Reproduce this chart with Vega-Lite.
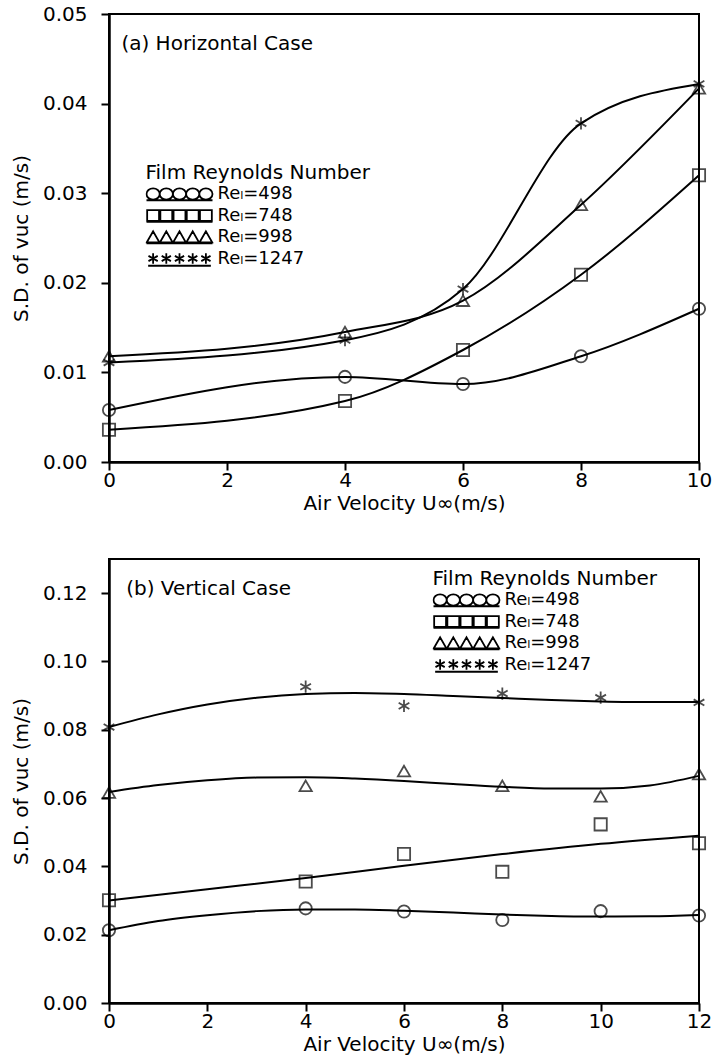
{
  "$schema": "https://vega.github.io/schema/vega-lite/v6.json",
  "background": "white",
  "padding": {"top": 3, "left": 10, "right": 2, "bottom": 5},
  "config": {
    "font": "DejaVu Sans",
    "view": {"stroke": "black", "strokeWidth": 2},
    "axis": {"domainColor": "black", "domainWidth": 2.5, "tickColor": "black", "tickWidth": 2, "tickSize": 8, "labelFont": "DejaVu Sans", "labelFontSize": 20, "labelColor": "black", "titleFont": "DejaVu Sans", "titleFontSize": 20, "titleFontWeight": "normal", "titleColor": "black", "grid": false, "labelFlush": false, "labelOverlap": false},
    "axisX": {"labelPadding": 0, "titlePadding": 3, "format": "d"},
    "axisY": {"labelPadding": 14, "titlePadding": 11},
    "legend": {"orient": "none", "padding": 0, "titleFont": "DejaVu Sans", "titleFontSize": 20, "titleFontWeight": "normal", "titleColor": "black", "titlePadding": 1, "titleLimit": 400, "labelLimit": 300, "labelFont": "DejaVu Sans", "labelFontSize": 18, "labelColor": "black", "labelOffset": 4, "symbolOffset": 0, "symbolSize": 4356, "symbolStrokeWidth": 1.8, "symbolStrokeColor": "black", "symbolFillColor": "transparent", "symbolOpacity": 1, "clipHeight": 20, "rowPadding": 1.5},
    "line": {"color": "black", "strokeWidth": 2},
    "point": {"color": "black", "filled": false, "strokeWidth": 1.8, "size": 150},
    "text": {"font": "DejaVu Sans", "fontSize": 20, "color": "black"}
  },
  "datasets": {
    "a_pts": [
      {"series": "Reₗ=498", "u": 0, "sd": 0.0058},
      {"series": "Reₗ=498", "u": 4, "sd": 0.0095},
      {"series": "Reₗ=498", "u": 6, "sd": 0.0087},
      {"series": "Reₗ=498", "u": 8, "sd": 0.0118},
      {"series": "Reₗ=498", "u": 10, "sd": 0.0171},
      {"series": "Reₗ=748", "u": 0, "sd": 0.0036},
      {"series": "Reₗ=748", "u": 4, "sd": 0.0068},
      {"series": "Reₗ=748", "u": 6, "sd": 0.0125},
      {"series": "Reₗ=748", "u": 8, "sd": 0.0209},
      {"series": "Reₗ=748", "u": 10, "sd": 0.0320},
      {"series": "Reₗ=998", "u": 0, "sd": 0.0118},
      {"series": "Reₗ=998", "u": 4, "sd": 0.0145},
      {"series": "Reₗ=998", "u": 6, "sd": 0.0180},
      {"series": "Reₗ=998", "u": 8, "sd": 0.0287},
      {"series": "Reₗ=998", "u": 10, "sd": 0.0417},
      {"series": "Reₗ=1247", "u": 0, "sd": 0.0111},
      {"series": "Reₗ=1247", "u": 4, "sd": 0.0136},
      {"series": "Reₗ=1247", "u": 6, "sd": 0.0193},
      {"series": "Reₗ=1247", "u": 8, "sd": 0.0378},
      {"series": "Reₗ=1247", "u": 10, "sd": 0.0422}
    ],
    "b_pts": [
      {"series": "Reₗ=498", "u": 0, "sd": 0.0213},
      {"series": "Reₗ=498", "u": 4, "sd": 0.0277},
      {"series": "Reₗ=498", "u": 6, "sd": 0.0268},
      {"series": "Reₗ=498", "u": 8, "sd": 0.0243},
      {"series": "Reₗ=498", "u": 10, "sd": 0.0269},
      {"series": "Reₗ=498", "u": 12, "sd": 0.0256},
      {"series": "Reₗ=748", "u": 0, "sd": 0.0301},
      {"series": "Reₗ=748", "u": 4, "sd": 0.0356},
      {"series": "Reₗ=748", "u": 6, "sd": 0.0436},
      {"series": "Reₗ=748", "u": 8, "sd": 0.0384},
      {"series": "Reₗ=748", "u": 10, "sd": 0.0523},
      {"series": "Reₗ=748", "u": 12, "sd": 0.0468},
      {"series": "Reₗ=998", "u": 0, "sd": 0.0616},
      {"series": "Reₗ=998", "u": 4, "sd": 0.0636},
      {"series": "Reₗ=998", "u": 6, "sd": 0.0679},
      {"series": "Reₗ=998", "u": 8, "sd": 0.0636},
      {"series": "Reₗ=998", "u": 10, "sd": 0.0605},
      {"series": "Reₗ=998", "u": 12, "sd": 0.0670},
      {"series": "Reₗ=1247", "u": 0, "sd": 0.0808},
      {"series": "Reₗ=1247", "u": 4, "sd": 0.0926},
      {"series": "Reₗ=1247", "u": 6, "sd": 0.0870},
      {"series": "Reₗ=1247", "u": 8, "sd": 0.0906},
      {"series": "Reₗ=1247", "u": 10, "sd": 0.0894},
      {"series": "Reₗ=1247", "u": 12, "sd": 0.0880}
    ],
    "b_fit": [
      {"series": "Reₗ=498", "u": 0, "sd": 0.0213},
      {"series": "Reₗ=498", "u": 1, "sd": 0.0240},
      {"series": "Reₗ=498", "u": 2, "sd": 0.0257},
      {"series": "Reₗ=498", "u": 3, "sd": 0.0269},
      {"series": "Reₗ=498", "u": 4, "sd": 0.0274},
      {"series": "Reₗ=498", "u": 5, "sd": 0.0274},
      {"series": "Reₗ=498", "u": 6, "sd": 0.0270},
      {"series": "Reₗ=498", "u": 7, "sd": 0.0265},
      {"series": "Reₗ=498", "u": 8, "sd": 0.0259},
      {"series": "Reₗ=498", "u": 9, "sd": 0.0255},
      {"series": "Reₗ=498", "u": 10, "sd": 0.0253},
      {"series": "Reₗ=498", "u": 11, "sd": 0.0254},
      {"series": "Reₗ=498", "u": 12, "sd": 0.0258},
      {"series": "Reₗ=748", "u": 0, "sd": 0.0300},
      {"series": "Reₗ=748", "u": 2, "sd": 0.0333},
      {"series": "Reₗ=748", "u": 4, "sd": 0.0366},
      {"series": "Reₗ=748", "u": 6, "sd": 0.0402},
      {"series": "Reₗ=748", "u": 8, "sd": 0.0436},
      {"series": "Reₗ=748", "u": 10, "sd": 0.0466},
      {"series": "Reₗ=748", "u": 12, "sd": 0.0490},
      {"series": "Reₗ=998", "u": 0, "sd": 0.0618},
      {"series": "Reₗ=998", "u": 1, "sd": 0.0638},
      {"series": "Reₗ=998", "u": 2, "sd": 0.0652},
      {"series": "Reₗ=998", "u": 3, "sd": 0.0660},
      {"series": "Reₗ=998", "u": 4, "sd": 0.0661},
      {"series": "Reₗ=998", "u": 5, "sd": 0.0657},
      {"series": "Reₗ=998", "u": 6, "sd": 0.0650},
      {"series": "Reₗ=998", "u": 7, "sd": 0.0641},
      {"series": "Reₗ=998", "u": 8, "sd": 0.0633},
      {"series": "Reₗ=998", "u": 9, "sd": 0.0628},
      {"series": "Reₗ=998", "u": 10, "sd": 0.0628},
      {"series": "Reₗ=998", "u": 11, "sd": 0.0637},
      {"series": "Reₗ=998", "u": 12, "sd": 0.0665},
      {"series": "Reₗ=1247", "u": 0, "sd": 0.0808},
      {"series": "Reₗ=1247", "u": 1, "sd": 0.0845},
      {"series": "Reₗ=1247", "u": 2, "sd": 0.0874},
      {"series": "Reₗ=1247", "u": 3, "sd": 0.0894},
      {"series": "Reₗ=1247", "u": 4, "sd": 0.0905},
      {"series": "Reₗ=1247", "u": 5, "sd": 0.0908},
      {"series": "Reₗ=1247", "u": 6, "sd": 0.0905},
      {"series": "Reₗ=1247", "u": 7, "sd": 0.0899},
      {"series": "Reₗ=1247", "u": 8, "sd": 0.0893},
      {"series": "Reₗ=1247", "u": 9, "sd": 0.0887},
      {"series": "Reₗ=1247", "u": 10, "sd": 0.0883},
      {"series": "Reₗ=1247", "u": 11, "sd": 0.0881},
      {"series": "Reₗ=1247", "u": 12, "sd": 0.0881}
    ]
  },
  "spacing": 44,
  "resolve": {"scale": {"shape": "independent"}, "legend": {"shape": "independent"}},
  "vconcat": [
    {
      "width": 590,
      "height": 448,
      "resolve": {"scale": {"shape": "independent"}},
      "layer": [
        {
          "data": {"name": "a_pts"},
          "mark": {"type": "line", "interpolate": "monotone"},
          "encoding": {
            "x": {"field": "u", "type": "quantitative", "scale": {"domain": [0, 10], "nice": false}, "axis": {"values": [0, 2, 4, 6, 8, 10], "format": "d", "title": "Air Velocity U∞(m/s)"}},
            "y": {"field": "sd", "type": "quantitative", "scale": {"domain": [0, 0.05], "nice": false}, "axis": {"values": [0, 0.01, 0.02, 0.03, 0.04, 0.05], "format": ".2f", "title": "S.D. of vuc (m/s)"}},
            "detail": {"field": "series", "type": "nominal"}
          }
        },
        {
          "data": {"name": "a_pts"},
          "mark": {"type": "point"},
          "encoding": {
            "x": {"field": "u", "type": "quantitative"},
            "y": {"field": "sd", "type": "quantitative"},
            "shape": {"field": "series", "type": "nominal", "scale": {"domain": ["Reₗ=498", "Reₗ=748", "Reₗ=998", "Reₗ=1247"], "range": ["circle", "square", "triangle-up", "M0,-1L0,1M-0.87,-0.5L0.87,0.5M-0.87,0.5L0.87,-0.5"]}, "legend": null}
          }
        },
        {
          "data": {"name": "a_pts"},
          "mark": {"type": "point", "opacity": 0},
          "encoding": {
            "x": {"field": "u", "type": "quantitative"},
            "y": {"field": "sd", "type": "quantitative"},
            "shape": {"field": "series", "type": "nominal",
              "scale": {"domain": ["Reₗ=498", "Reₗ=748", "Reₗ=998", "Reₗ=1247"], "range": [
                "M-1,0a0.2,0.17 0 1,0 0.4,0a0.2,0.17 0 1,0 -0.4,0M-0.6,0a0.2,0.17 0 1,0 0.4,0a0.2,0.17 0 1,0 -0.4,0M-0.2,0a0.2,0.17 0 1,0 0.4,0a0.2,0.17 0 1,0 -0.4,0M0.2,0a0.2,0.17 0 1,0 0.4,0a0.2,0.17 0 1,0 -0.4,0M0.6,0a0.2,0.17 0 1,0 0.4,0a0.2,0.17 0 1,0 -0.4,0M-1,0.19L1,0.19",
                "M-0.98,-0.16h0.36v0.32h-0.36zM-0.58,-0.16h0.36v0.32h-0.36zM-0.18,-0.16h0.36v0.32h-0.36zM0.22,-0.16h0.36v0.32h-0.36zM0.62,-0.16h0.36v0.32h-0.36zM-1,0.19L1,0.19",
                "M-0.99,0.16L-0.8,-0.17L-0.61,0.16ZM-0.59,0.16L-0.4,-0.17L-0.21,0.16ZM-0.19,0.16L0,-0.17L0.19,0.16ZM0.21,0.16L0.4,-0.17L0.59,0.16ZM0.61,0.16L0.8,-0.17L0.99,0.16ZM-1,0.19L1,0.19",
                "M-0.8,-0.16L-0.8,0.16M-0.94,-0.08L-0.66,0.08M-0.94,0.08L-0.66,-0.08M-0.4,-0.16L-0.4,0.16M-0.54,-0.08L-0.26,0.08M-0.54,0.08L-0.26,-0.08M0,-0.16L0,0.16M-0.14,-0.08L0.14,0.08M-0.14,0.08L0.14,-0.08M0.4,-0.16L0.4,0.16M0.26,-0.08L0.54,0.08M0.26,0.08L0.54,-0.08M0.8,-0.16L0.8,0.16M0.66,-0.08L0.94,0.08M0.66,0.08L0.94,-0.08M-0.95,0.22L0.95,0.22"
              ]},
              "legend": {"title": "Film Reynolds Number", "legendX": 36.5, "legendY": 149, "encode": {"symbols": {"update": {"opacity": {"value": 1}, "strokeOpacity": {"value": 1}}}}}
            }
          }
        },
        {
          "data": {"values": [{"t": "(a) Horizontal Case"}]},
          "mark": {"type": "text", "align": "left", "baseline": "middle", "fontSize": 20},
          "encoding": {
            "x": {"datum": 0.21, "type": "quantitative"},
            "y": {"datum": 0.0466, "type": "quantitative"},
            "text": {"field": "t", "type": "nominal"}
          }
        }
      ]
    },
    {
      "width": 590,
      "height": 444,
      "resolve": {"scale": {"shape": "independent"}},
      "layer": [
        {
          "data": {"name": "b_fit"},
          "mark": {"type": "line", "interpolate": "monotone"},
          "encoding": {
            "x": {"field": "u", "type": "quantitative", "scale": {"domain": [0, 12], "nice": false}, "axis": {"values": [0, 2, 4, 6, 8, 10, 12], "format": "d", "title": "Air Velocity U∞(m/s)"}},
            "y": {"field": "sd", "type": "quantitative", "scale": {"domain": [0, 0.13], "nice": false}, "axis": {"values": [0, 0.02, 0.04, 0.06, 0.08, 0.1, 0.12], "format": ".2f", "title": "S.D. of vuc (m/s)"}},
            "detail": {"field": "series", "type": "nominal"}
          }
        },
        {
          "data": {"name": "b_pts"},
          "mark": {"type": "point"},
          "encoding": {
            "x": {"field": "u", "type": "quantitative"},
            "y": {"field": "sd", "type": "quantitative"},
            "shape": {"field": "series", "type": "nominal", "scale": {"domain": ["Reₗ=498", "Reₗ=748", "Reₗ=998", "Reₗ=1247"], "range": ["circle", "square", "triangle-up", "M0,-1L0,1M-0.87,-0.5L0.87,0.5M-0.87,0.5L0.87,-0.5"]}, "legend": null}
          }
        },
        {
          "data": {"name": "b_pts"},
          "mark": {"type": "point", "opacity": 0},
          "encoding": {
            "x": {"field": "u", "type": "quantitative"},
            "y": {"field": "sd", "type": "quantitative"},
            "shape": {"field": "series", "type": "nominal",
              "scale": {"domain": ["Reₗ=498", "Reₗ=748", "Reₗ=998", "Reₗ=1247"], "range": [
                "M-1,0a0.2,0.17 0 1,0 0.4,0a0.2,0.17 0 1,0 -0.4,0M-0.6,0a0.2,0.17 0 1,0 0.4,0a0.2,0.17 0 1,0 -0.4,0M-0.2,0a0.2,0.17 0 1,0 0.4,0a0.2,0.17 0 1,0 -0.4,0M0.2,0a0.2,0.17 0 1,0 0.4,0a0.2,0.17 0 1,0 -0.4,0M0.6,0a0.2,0.17 0 1,0 0.4,0a0.2,0.17 0 1,0 -0.4,0M-1,0.19L1,0.19",
                "M-0.98,-0.16h0.36v0.32h-0.36zM-0.58,-0.16h0.36v0.32h-0.36zM-0.18,-0.16h0.36v0.32h-0.36zM0.22,-0.16h0.36v0.32h-0.36zM0.62,-0.16h0.36v0.32h-0.36zM-1,0.19L1,0.19",
                "M-0.99,0.16L-0.8,-0.17L-0.61,0.16ZM-0.59,0.16L-0.4,-0.17L-0.21,0.16ZM-0.19,0.16L0,-0.17L0.19,0.16ZM0.21,0.16L0.4,-0.17L0.59,0.16ZM0.61,0.16L0.8,-0.17L0.99,0.16ZM-1,0.19L1,0.19",
                "M-0.8,-0.16L-0.8,0.16M-0.94,-0.08L-0.66,0.08M-0.94,0.08L-0.66,-0.08M-0.4,-0.16L-0.4,0.16M-0.54,-0.08L-0.26,0.08M-0.54,0.08L-0.26,-0.08M0,-0.16L0,0.16M-0.14,-0.08L0.14,0.08M-0.14,0.08L0.14,-0.08M0.4,-0.16L0.4,0.16M0.26,-0.08L0.54,0.08M0.26,0.08L0.54,-0.08M0.8,-0.16L0.8,0.16M0.66,-0.08L0.94,0.08M0.66,0.08L0.94,-0.08M-0.95,0.22L0.95,0.22"
              ]},
              "legend": {"title": "Film Reynolds Number", "legendX": 323.5, "legendY": 10, "encode": {"symbols": {"update": {"opacity": {"value": 1}, "strokeOpacity": {"value": 1}}}}}
            }
          }
        },
        {
          "data": {"values": [{"t": "(b) Vertical Case"}]},
          "mark": {"type": "text", "align": "left", "baseline": "middle", "fontSize": 20},
          "encoding": {
            "x": {"datum": 0.35, "type": "quantitative"},
            "y": {"datum": 0.1212, "type": "quantitative"},
            "text": {"field": "t", "type": "nominal"}
          }
        }
      ]
    }
  ]
}
